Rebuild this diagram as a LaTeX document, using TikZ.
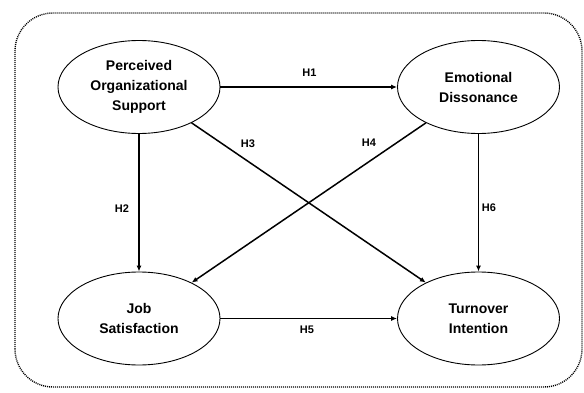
\documentclass[tikz,border=0pt]{standalone}
\usepackage{fontspec}
\setmainfont{Liberation Sans}
\usepackage{tikz}
\usetikzlibrary{shapes.geometric,arrows.meta,positioning}

\tikzset{
  construct/.style={ellipse, draw, line width=0.9pt, minimum width=162pt, minimum height=93pt,
    inner sep=0pt, align=center, font=\fontsize{14}{20}\selectfont\bfseries},
  path/.style={line width=1.5pt, -{Latex[length=6pt,width=5pt]}},
  hyp/.style={font=\fontsize{11}{13}\selectfont\bfseries}
}

\begin{document}
\begin{tikzpicture}[x=1pt,y=1pt]
        \useasboundingbox (0,0) rectangle (584,392);
        % outer frame
        \draw[line width=1.4pt, dash pattern=on 1pt off 1pt, rounded corners=38pt] (15,5) rectangle (582,379);
        % constructs
        \node[construct] (pos) at (139,305) {Perceived\\Organizational\\Support};
        \node[construct] (ed) at (478.5,305) {Emotional\\Dissonance};
        \node[construct] (js) at (139,73.5) {Job\\Satisfaction};
        \node[construct] (ti) at (478.5,73.5) {Turnover\\Intention};
        % hypotheses
        \draw[path] (pos) -- (ed);
        \draw[path] (pos) -- (js);
        \draw[path] (pos) -- (ti);
        \draw[path] (ed) -- (js);
        \draw[path] (js) -- (ti);
        \draw[path] (ed) -- (ti);
        \node[hyp] (h1) at (309.5,319) {H1};
        \node[hyp] (h2) at (122,183.5) {H2};
        \node[hyp] (h3) at (248,248) {H3};
        \node[hyp] (h4) at (369,249) {H4};
        \node[hyp] (h5) at (307,62) {H5};
        \node[hyp] (h6) at (489,184.5) {H6};
    \end{tikzpicture}
\end{document}
